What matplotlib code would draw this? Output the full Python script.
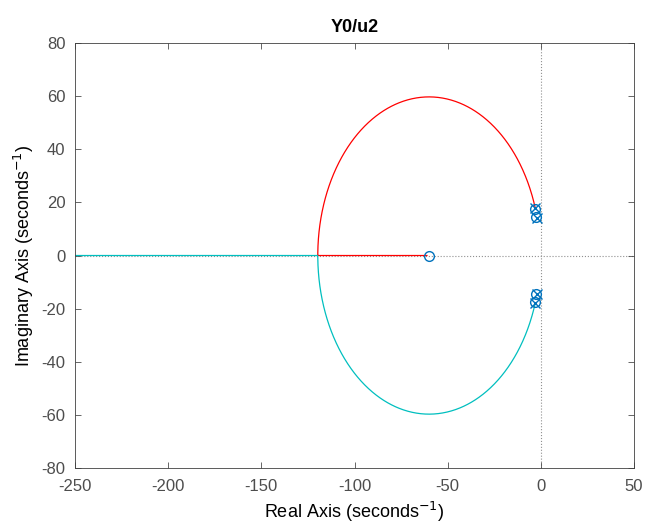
import numpy as np
import matplotlib
matplotlib.use('Agg')
import matplotlib.pyplot as plt

plt.rcParams['font.family'] = ['Liberation Sans', 'DejaVu Sans']
plt.rcParams['axes.unicode_minus'] = False

# poles / zeros (real, imag)
pole_re = [-3.0, -3.0, -2.2, -2.2]
pole_im = [17.8, -17.8, 14.3, -14.3]
zero_re = [-60.0, -2.9, -2.9, -2.4, -2.4]
zero_im = [0.0, 17.5, -17.5, 14.6, -14.6]

# dominant pair + zero give the visible locus
dom_pole = complex(pole_re[0], pole_im[0])
dom_zero = zero_re[0]

den = np.poly([dom_pole, dom_pole.conjugate()]).real
num = np.array([1.0, -dom_zero])
r = abs(dom_pole - dom_zero)
s_b = dom_zero - r
k_break = -np.polyval(den, s_b) / np.polyval(num, s_b)

# gain sweep, dense around the break-in point
gains = np.concatenate([
    np.linspace(0, k_break, 400),
    k_break - np.geomspace(1e-8, k_break * 0.5, 400),
    k_break + np.geomspace(1e-8, 3000, 400),
    [k_break],
])
gains = np.unique(gains)

red_pts, cyan_pts = [], []
for k in gains:
    rts = np.roots(den + k * np.concatenate([[0.0], num]))
    if k < k_break:
        up = rts[np.argmax(rts.imag)]
        red_pts.append(complex(up.real, abs(up.imag)))
        cyan_pts.append(complex(up.real, -abs(up.imag)))
    else:
        rr = np.sort(rts.real)
        red_pts.append(complex(rr[1], 0))
        cyan_pts.append(complex(rr[0], 0))
red_pts = np.array(red_pts)
cyan_pts = np.array(cyan_pts)

fig = plt.figure(figsize=(6.47, 5.31), dpi=100)
ax = fig.add_axes([0.1159, 0.1186, 0.8641, 0.8004])

ax.axhline(0, color='#909090', ls=':', lw=0.8, zorder=0)
ax.axvline(0, color='#909090', ls=':', lw=0.8, zorder=0)

ax.plot(red_pts.real, red_pts.imag, color='#ff0000', lw=0.9)
ax.plot(cyan_pts.real, cyan_pts.imag, color='#00bfbf', lw=0.9)
ax.plot([cyan_pts.real[-1], -260], [0, 0], color='#00bfbf', lw=0.9)

blue = '#0072bd'
ax.plot(pole_re, pole_im, 'x', color=blue, ms=7, mew=1.0, ls='none')
ax.plot(zero_re, zero_im, 'o', mfc='none', mec=blue, ms=7, mew=1.0, ls='none')

ax.set_xlim(-250, 50)
ax.set_ylim(-80, 80)
ax.set_xticks(np.arange(-250, 51, 50))
ax.set_yticks(np.arange(-80, 81, 20))
ax.tick_params(direction='in', top=True, right=True, labelsize=12,
               colors='#4d4d4d', length=4, width=0.6)
ax.tick_params(axis='x', pad=8)
ax.tick_params(axis='y', pad=7)
for sp in ax.spines.values():
    sp.set_color('#404040')
    sp.set_linewidth(0.6)

ax.set_title('Y0/u2', fontsize=13, fontweight='bold', pad=8)
ax.set_xlabel('Real Axis (seconds$^{\\mathsf{-1}}$)', fontsize=13, labelpad=4)
ax.set_ylabel('Imaginary Axis (seconds$^{\\mathsf{-1}}$)', fontsize=13, labelpad=4)

fig.savefig('out.png', dpi=100)
